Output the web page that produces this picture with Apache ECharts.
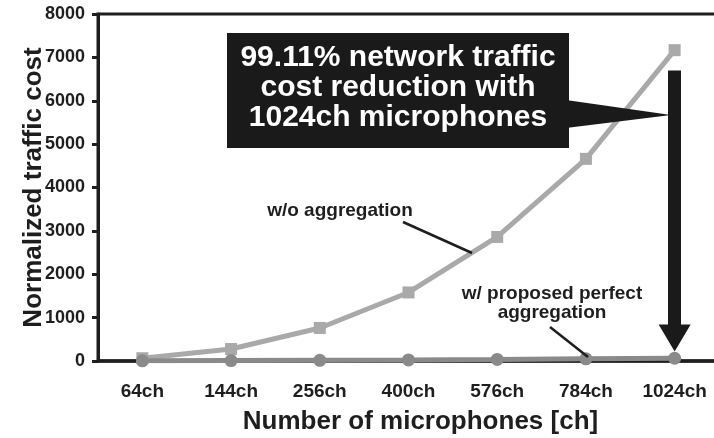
<!DOCTYPE html>
<html>
<head>
<meta charset="utf-8">
<script src="https://cdn.jsdelivr.net/npm/echarts@6/dist/echarts.min.js"></script>
<style>
  html, body { margin: 0; padding: 0; background: #fff; }
  #chartsDom { width: 714px; height: 438px; }
</style>
</head>
<body>
<div id="chartsDom"></div>
<script>
// data
const categories = ["64ch", "144ch", "256ch", "400ch", "576ch", "784ch", "1024ch"];
const withoutAgg = [64, 276, 762, 1580, 2860, 4660, 7166];
const withAgg = [4, 9, 16, 25, 36, 49, 64];
const yMin = 0;
const yMax = 8000;
const yStep = 1000;

const font = "'Liberation Sans', Arial, Helvetica, sans-serif";
const ink = "#1e1e1e";

const myChart = echarts.init(document.getElementById("chartsDom"));

let option = {
  animation: false,
  backgroundColor: "#fff",
  textStyle: { fontFamily: font },
  grid: {
    left: 98,
    top: 14,
    right: -5,
    bottom: 77,
    outerBoundsMode: "none",
    containLabel: false,
    show: true,
    borderColor: ink,
    borderWidth: 3,
    backgroundColor: "transparent"
  },
  xAxis: {
    type: "category",
    data: categories,
    boundaryGap: true,
    name: "Number of microphones [ch]",
    nameLocation: "middle",
    nameGap: 48,
    nameMoveOverlap: false,
    nameTextStyle: {
      fontFamily: font, fontWeight: "bold", fontSize: 26, color: ink,
      padding: [0, 0, 0, 24]
    },
    axisLine: { lineStyle: { color: ink, width: 3.5 } },
    axisTick: { length: 6, lineStyle: { color: ink, width: 3 } },
    axisLabel: { margin: 21, fontFamily: font, fontWeight: "bold", fontSize: 19, color: ink }
  },
  yAxis: {
    type: "value",
    min: yMin,
    max: yMax,
    interval: yStep,
    name: "Normalized traffic cost",
    nameLocation: "middle",
    nameGap: 51,
    nameMoveOverlap: false,
    nameTextStyle: { fontFamily: font, fontWeight: "bold", fontSize: 26, color: ink },
    splitLine: { show: false },
    axisLine: { show: true, lineStyle: { color: ink, width: 3 } },
    axisTick: { show: true, length: 6, lineStyle: { color: ink, width: 3 } },
    axisLabel: {
      margin: 13, fontFamily: font, fontWeight: "bold", fontSize: 18, color: ink,
      formatter: v => String(v)
    }
  },
  series: [
    {
      name: "w/o aggregation",
      type: "line",
      data: withoutAgg,
      symbol: "rect",
      symbolSize: 12,
      itemStyle: { color: "#a9a9a9" },
      lineStyle: { color: "#a9a9a9", width: 5 },
      z: 2,
      markLine: {
        silent: true,
        symbol: ["none", "triangle"],
        symbolSize: [32, 27],
        label: { show: false },
        lineStyle: { color: "#1a1a1a", width: 13, type: "solid" },
        data: [[
          { coord: ["1024ch", 6700] },
          { coord: ["1024ch", 530] }
        ]]
      }
    },
    {
      name: "w/ proposed perfect aggregation",
      type: "line",
      data: withAgg,
      symbol: "circle",
      symbolSize: 13,
      itemStyle: { color: "#8a8a8a" },
      lineStyle: { color: "#8a8a8a", width: 5 },
      z: 3
    }
  ],
  graphic: [
    // callout box
    { type: "rect", shape: { x: 227, y: 33, width: 342, height: 115 }, style: { fill: "#1a1a1a" }, z: 10 },
    { type: "polygon", shape: { points: [[566, 100], [566, 128], [671, 115]] }, style: { fill: "#1a1a1a" }, z: 10 },
    {
      type: "text", x: 398, y: 43, z: 11,
      style: {
        text: "99.11% network traffic\ncost reduction with\n1024ch microphones",
        textAlign: "center", align: "center", verticalAlign: "top", textVerticalAlign: "top",
        font: "bold 30px " + font, fill: "#fff", lineHeight: 30
      }
    },
    // series labels with leader lines
    {
      type: "text", x: 340, y: 201, z: 11,
      style: {
        text: "w/o aggregation", textAlign: "center", align: "center",
        font: "bold 19px " + font, fill: ink
      }
    },
    { type: "line", shape: { x1: 403, y1: 222, x2: 472, y2: 253 }, style: { stroke: ink, lineWidth: 2.5 }, z: 11 },
    {
      type: "text", x: 552, y: 284, z: 11,
      style: {
        text: "w/ proposed perfect\naggregation", textAlign: "center", align: "center",
        font: "bold 19px " + font, fill: ink, lineHeight: 19
      }
    },
    { type: "line", shape: { x1: 550, y1: 327, x2: 588, y2: 357 }, style: { stroke: ink, lineWidth: 2.5 }, z: 11 }
  ]
};
option && myChart.setOption(option);
</script>
</body>
</html>
